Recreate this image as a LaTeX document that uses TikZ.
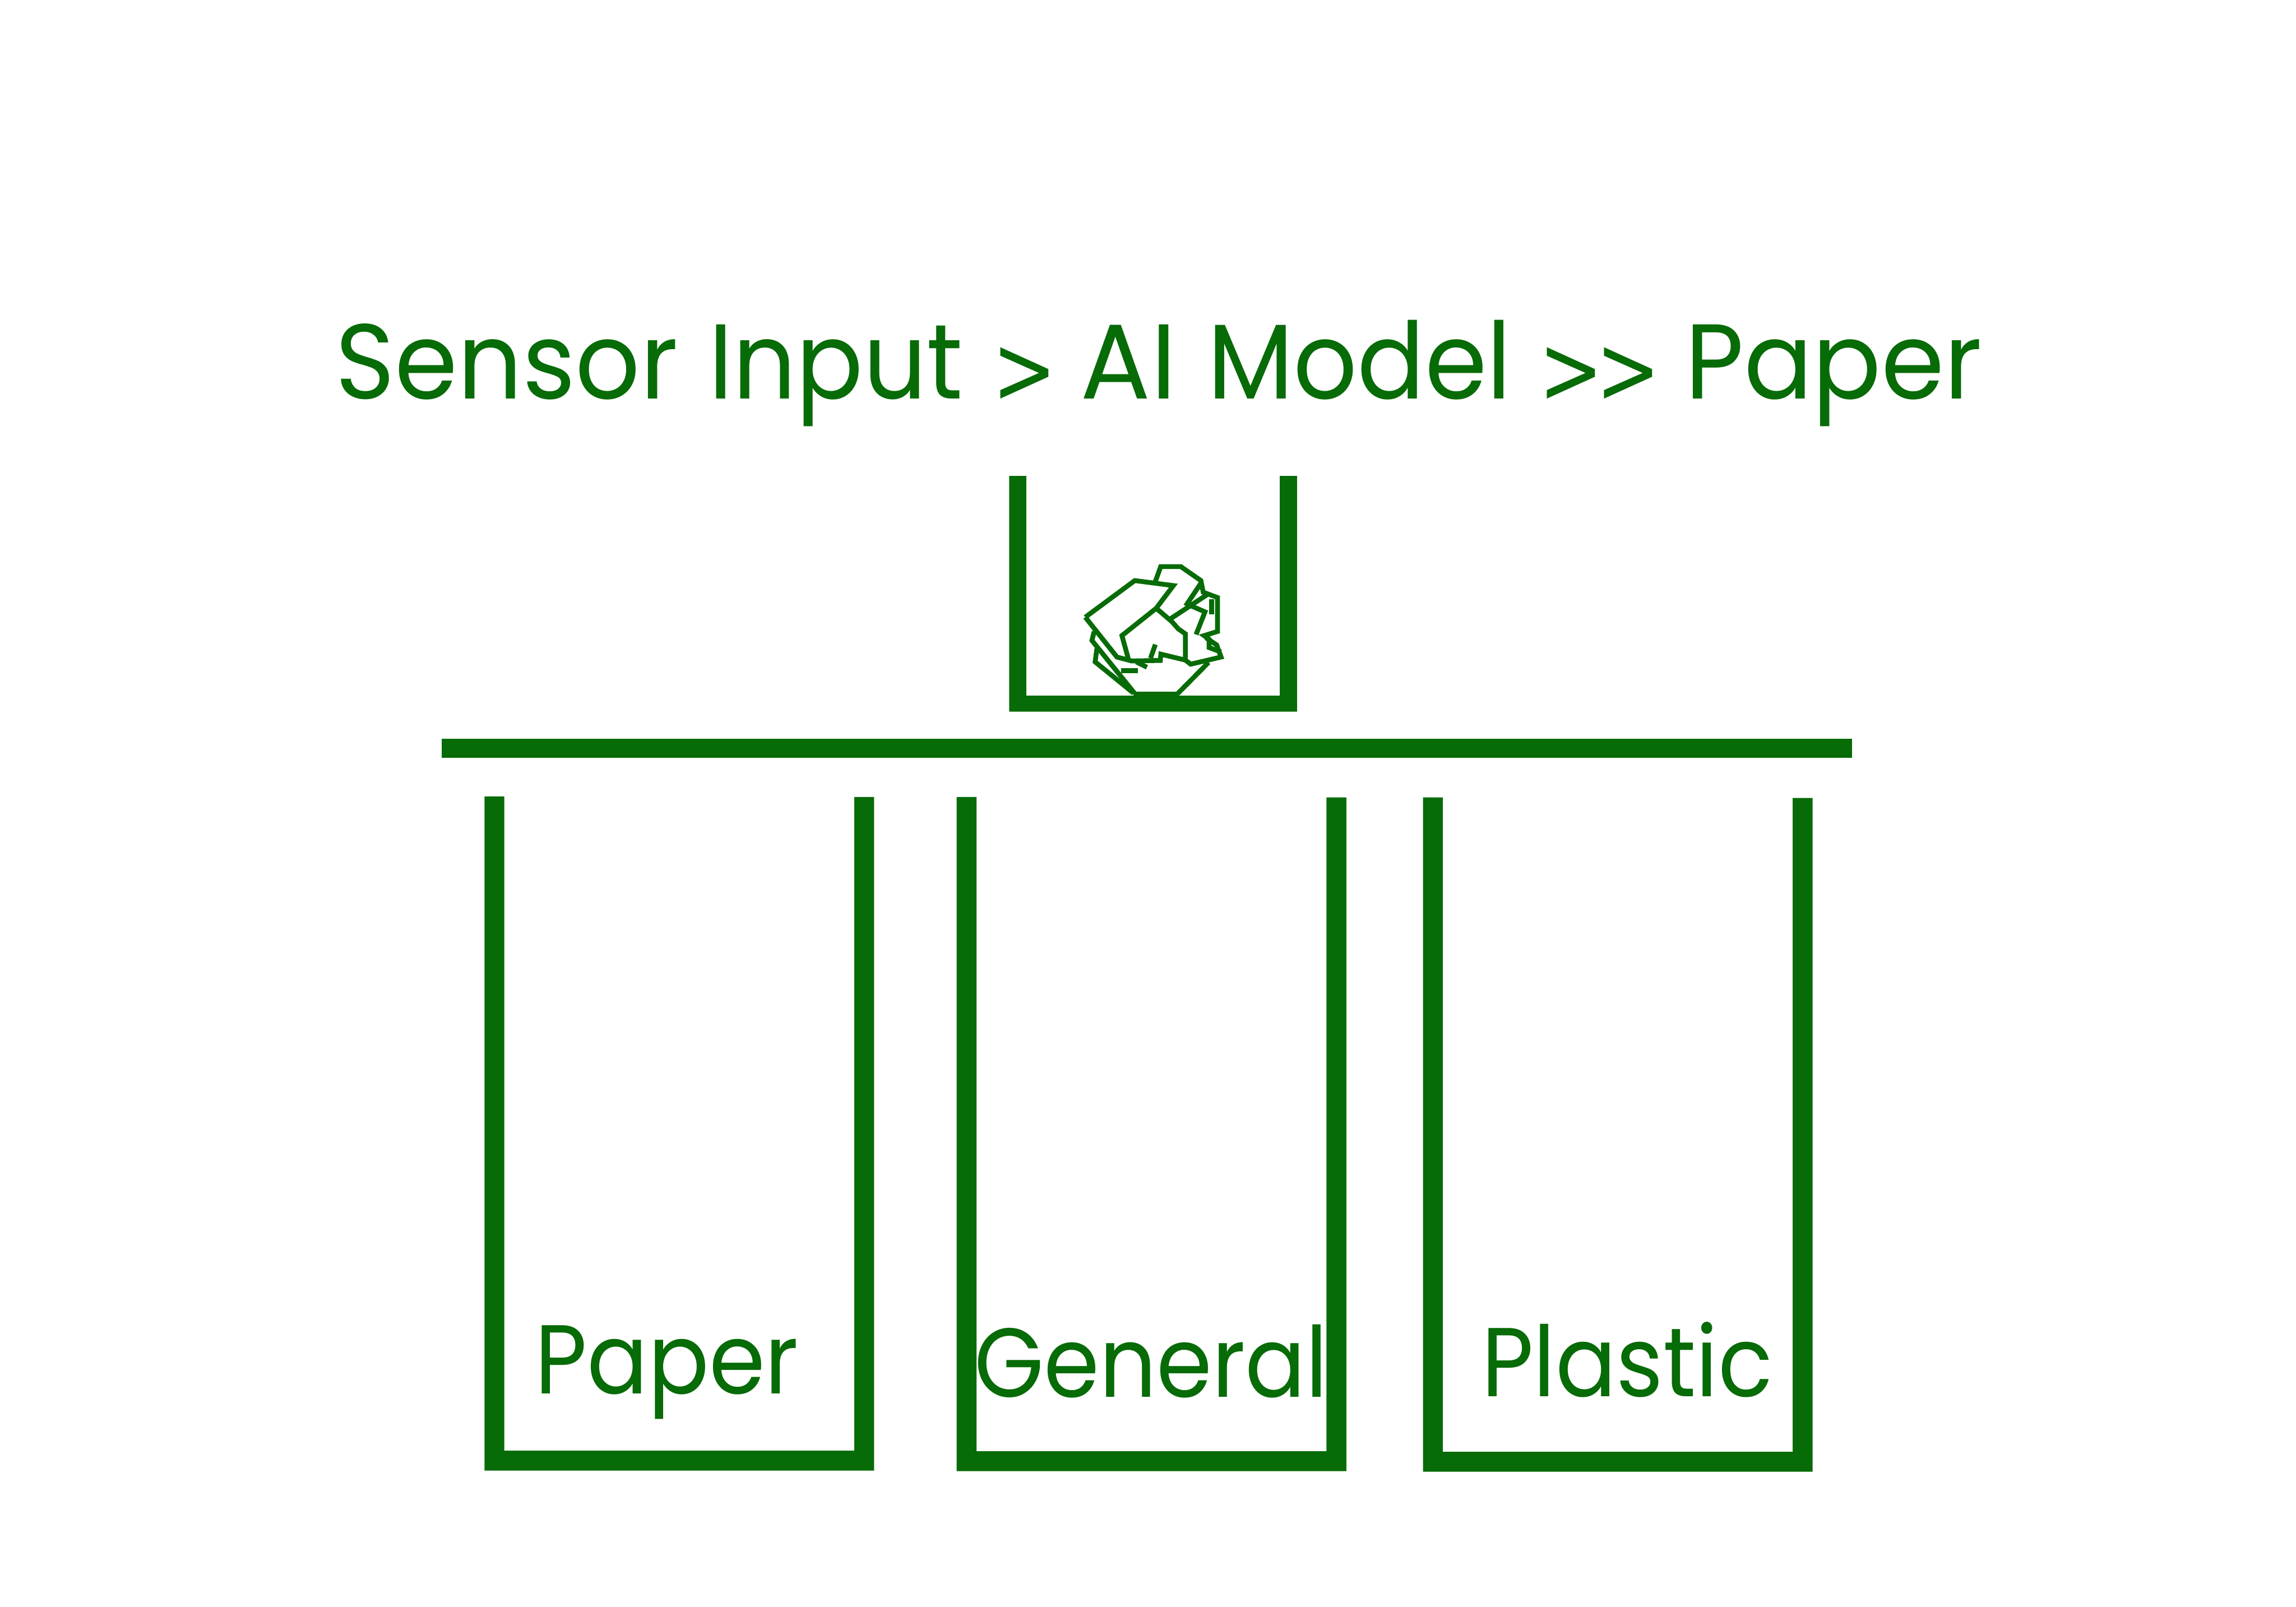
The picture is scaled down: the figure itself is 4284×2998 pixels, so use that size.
\documentclass[tikz,border=0pt]{standalone}
\usepackage{fontspec}
\usepackage{graphicx}
\setmainfont{Poppins}
\newfontfamily\chevronfont{DejaVu Sans}
\definecolor{bingreen}{HTML}{076B07}
\newlength{\pxu}
\setlength{\pxu}{0.02cm}
\newcommand{\fitted}[2]{\resizebox{#1\pxu}{\height}{#2}}
\newcommand{\gapx}[1]{\hspace{#1\pxu}}
\newcommand{\chev}{\raisebox{-8\pxu}{\resizebox{120\pxu}{\height}{\chevronfont\fontsize{102pt}{110pt}\selectfont >}}}
\tikzset{
  wall/.style={fill=bingreen,draw=none},
  crumple/.style={draw=bingreen,line width=0.18cm,line join=miter,fill=none},
  titletext/.style={text=bingreen,inner sep=0pt,anchor=base west,font=\fontsize{113pt}{120pt}\selectfont},
  bintext/.style={text=bingreen,inner sep=0pt,anchor=base west,font=\fontsize{104pt}{110pt}\selectfont}
}
\begin{document}
\begin{tikzpicture}[x=0.02cm,y=-0.02cm]
\useasboundingbox[fill=white] (0,0) rectangle (4284,2998);
% chute bin
\fill[wall] (1883,888) -- (1915,888) -- (1915,1298) -- (2388,1298) -- (2388,888) -- (2420,888) -- (2420,1328) -- (1883,1328) -- cycle;
% bar
\fill[wall] (824,1378) rectangle (3456,1414);
% lower bins
\fill[wall] (904,1486) -- (941,1486) -- (941,2707) -- (1594,2707) -- (1594,1487) -- (1631,1487) -- (1631,2744) -- (904,2744) -- cycle;
\fill[wall] (1785,1487) -- (1822,1487) -- (1822,2708) -- (2475,2708) -- (2475,1488) -- (2512,1488) -- (2512,2745) -- (1785,2745) -- cycle;
\fill[wall] (2655,1488) -- (2692,1488) -- (2692,2709) -- (3345,2709) -- (3345,1489) -- (3382,1489) -- (3382,2746) -- (2655,2746) -- cycle;
% crumpled paper
\begin{scope}[shift={(1950,1000)},x=0.00667cm,y=-0.00667cm]
\draw[crumple] (225,455) -- (502,250) -- (718,278) -- (622,405) -- (430,558) -- (465,685);
\draw[crumple] (225,455) -- (402,678) -- (485,700) -- (645,697) -- (648,662) -- (785,695);
\draw[crumple] (622,405) -- (710,480) -- (745,520) -- (785,548) -- (785,695) -- (815,718) -- (985,678) -- (960,610) -- (900,570);
\draw[crumple] (617,255) -- (647,172) -- (760,172) -- (872,250) -- (885,315) -- (965,345) -- (965,535) -- (890,558) -- (918,578) -- (918,625) -- (985,650);
\draw[crumple] (872,265) -- (795,380) -- (825,395) -- (895,425) -- (845,552);
\draw[crumple] (700,465) -- (905,330);
\draw[crumple] (933,355) -- (933,440);
\draw[crumple] (590,685) -- (617,608);
\draw[crumple] (510,705) -- (570,735);
\draw[crumple] (424,755) -- (520,755);
\draw[crumple] (275,535) -- (262,585) -- (500,880);
\draw[crumple] (290,630) -- (280,705) -- (495,880);
\draw[crumple] (495,885) -- (745,885);
\draw[crumple] (915,708) -- (740,885);
\end{scope}
% text
\node[titletext] (title) at (626,744) {\fitted{639}{Sensor}\gapx{57}\fitted{474}{Input}\gapx{55}\chev\gapx{45}\fitted{179}{AI}\gapx{58}\fitted{567}{Model}\gapx{51}\chev\gapx{-13}\chev\gapx{46}\fitted{554}{Paper}};
\node[bintext] (paper) at (998,2601) {\fitted{492}{Paper}};
\node[bintext] (general) at (1818,2607) {\fitted{659}{General}};
\node[bintext] (plastic) at (2764,2606) {\fitted{543}{Plastic}};
\end{tikzpicture}
\end{document}
